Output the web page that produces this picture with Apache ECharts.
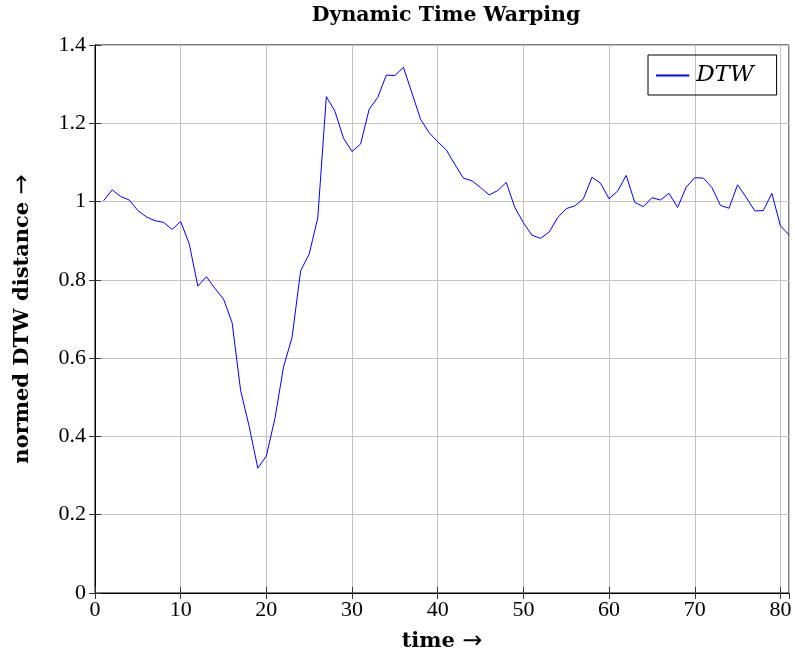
<!DOCTYPE html>
<html>
<head>
<meta charset="utf-8">
<script src="https://cdn.jsdelivr.net/npm/echarts@6/dist/echarts.min.js"></script>
<style>
  html, body { margin: 0; padding: 0; background: #fff; }
  #chart { width: 795px; height: 659px; }
</style>
</head>
<body>
<div id="chart"></div>
<script>
// Normalised DTW distance over time
const times = [
  1, 2, 3, 4, 5, 6, 7, 8, 9, 10,
  11, 12, 13, 14, 15, 16, 17, 18, 19, 20,
  21, 22, 23, 24, 25, 26, 27, 28, 29, 30,
  31, 32, 33, 34, 35, 36, 37, 38, 39, 40,
  41, 42, 43, 44, 45, 46, 47, 48, 49, 50,
  51, 52, 53, 54, 55, 56, 57, 58, 59, 60,
  61, 62, 63, 64, 65, 66, 67, 68, 69, 70,
  71, 72, 73, 74, 75, 76, 77, 78, 79, 80, 81
];
const dtwValues = [
  1.002, 1.030, 1.013, 1.004, 0.977, 0.961, 0.951, 0.947, 0.929, 0.949,
  0.892, 0.784, 0.808, 0.778, 0.751, 0.691, 0.517, 0.425, 0.319, 0.350,
  0.446, 0.577, 0.653, 0.823, 0.866, 0.958, 1.268, 1.231, 1.162, 1.128,
  1.147, 1.236, 1.266, 1.323, 1.322, 1.343, 1.277, 1.210, 1.176, 1.153,
  1.132, 1.095, 1.060, 1.053, 1.036, 1.017, 1.028, 1.049, 0.985, 0.946,
  0.914, 0.906, 0.922, 0.959, 0.982, 0.989, 1.007, 1.062, 1.047, 1.007,
  1.027, 1.067, 0.998, 0.987, 1.010, 1.004, 1.021, 0.985, 1.037, 1.061,
  1.060, 1.036, 0.990, 0.983, 1.043, 1.011, 0.976, 0.977, 1.021, 0.938, 0.915
];
const xTicks = [0, 10, 20, 30, 40, 50, 60, 70, 80];
const yTicks = [0, 0.2, 0.4, 0.6, 0.8, 1, 1.2, 1.4];

const SERIF = '"Liberation Serif", "DejaVu Serif", serif';
const WIDE_SERIF = '"DejaVu Serif", "Liberation Serif", serif';
const GRID_COLOR = '#c4c4c4';

const chart = echarts.init(document.getElementById('chart'), null, { renderer: 'canvas' });

const tickStyle = { show: true, inside: true, length: 6, lineStyle: { color: '#333', width: 1 } };

// Axis titles end with an arrow drawn a little larger than the words
const arrowRich = {
  arr: { fontFamily: '"DejaVu Sans", sans-serif', fontSize: 24, fontWeight: 'normal', color: '#000' }
};

const option = {
  backgroundColor: '#ffffff',
  animation: false,
  title: {
    text: 'Dynamic Time Warping',
    left: 441,
    textAlign: 'center',
    top: 0,
    textStyle: { fontFamily: WIDE_SERIF, fontSize: 20.5, fontWeight: 'bold', color: '#000' }
  },
  legend: {
    left: 648,
    top: 55,
    orient: 'horizontal',
    data: ['DTW'],
    icon: 'path://M0,0 L1,0 L1,0.06 L0,0.06 Z',
    itemWidth: 37,
    itemHeight: 2,
    itemGap: 5,
    borderColor: '#000',
    borderWidth: 1,
    borderRadius: 0,
    padding: [9, 23, 8, 8],
    textStyle: { fontFamily: WIDE_SERIF, fontSize: 23, fontStyle: 'italic', color: '#000' }
  },
  grid: {
    left: 95, right: 6, top: 45, bottom: 66,
    show: true, borderColor: '#000', borderWidth: 1, backgroundColor: 'transparent'
  },
  xAxis: [{
    type: 'value',
    min: 0, max: 81, interval: 10,
    name: 'time {arr|→}',
    nameLocation: 'middle',
    nameGap: 37,
    nameTextStyle: { fontFamily: WIDE_SERIF, fontSize: 21, fontWeight: 'bold', color: '#000', rich: arrowRich },
    axisLine: { show: true, lineStyle: { color: '#000', width: 1 } },
    axisTick: tickStyle,
    axisLabel: {
      fontFamily: SERIF, fontSize: 22, color: '#000', margin: 6,
      showMaxLabel: false,
      formatter: v => (xTicks.indexOf(v) >= 0 ? String(v) : '')
    },
    splitLine: { show: true, lineStyle: { color: GRID_COLOR, width: 1 } }
  }, {
    type: 'value',
    position: 'top',
    min: 0, max: 81, interval: 10,
    axisLine: { show: true, lineStyle: { color: '#000', width: 1 } },
    axisTick: tickStyle,
    axisLabel: { show: false },
    splitLine: { show: false }
  }],
  yAxis: [{
    type: 'value',
    min: 0, max: 1.4, interval: 0.2,
    name: 'normed DTW distance {arr|→}',
    nameLocation: 'middle',
    nameGap: 60,
    nameRotate: 90,
    nameTextStyle: { fontFamily: WIDE_SERIF, fontSize: 21, fontWeight: 'bold', color: '#000', rich: arrowRich },
    axisLine: { show: true, lineStyle: { color: '#000', width: 1 } },
    axisTick: tickStyle,
    axisLabel: {
      fontFamily: SERIF, fontSize: 22, color: '#000', margin: 9,
      formatter: v => {
        const t = yTicks.find(k => Math.abs(k - v) < 1e-9);
        return t === undefined ? '' : String(t);
      }
    },
    splitLine: { show: true, lineStyle: { color: GRID_COLOR, width: 1 } }
  }, {
    type: 'value',
    position: 'right',
    min: 0, max: 1.4, interval: 0.2,
    axisLine: { show: true, lineStyle: { color: '#000', width: 1 } },
    axisTick: tickStyle,
    axisLabel: { show: false },
    splitLine: { show: false }
  }],
  series: [{
    name: 'DTW',
    type: 'line',
    xAxisIndex: 0,
    yAxisIndex: 0,
    data: times.map((t, i) => [t, dtwValues[i]]),
    showSymbol: false,
    symbol: 'none',
    lineStyle: { color: '#0000ff', width: 1 },
    itemStyle: { color: '#0000ff' },
    clip: true
  }]
};

chart.setOption(option);
</script>
</body>
</html>
